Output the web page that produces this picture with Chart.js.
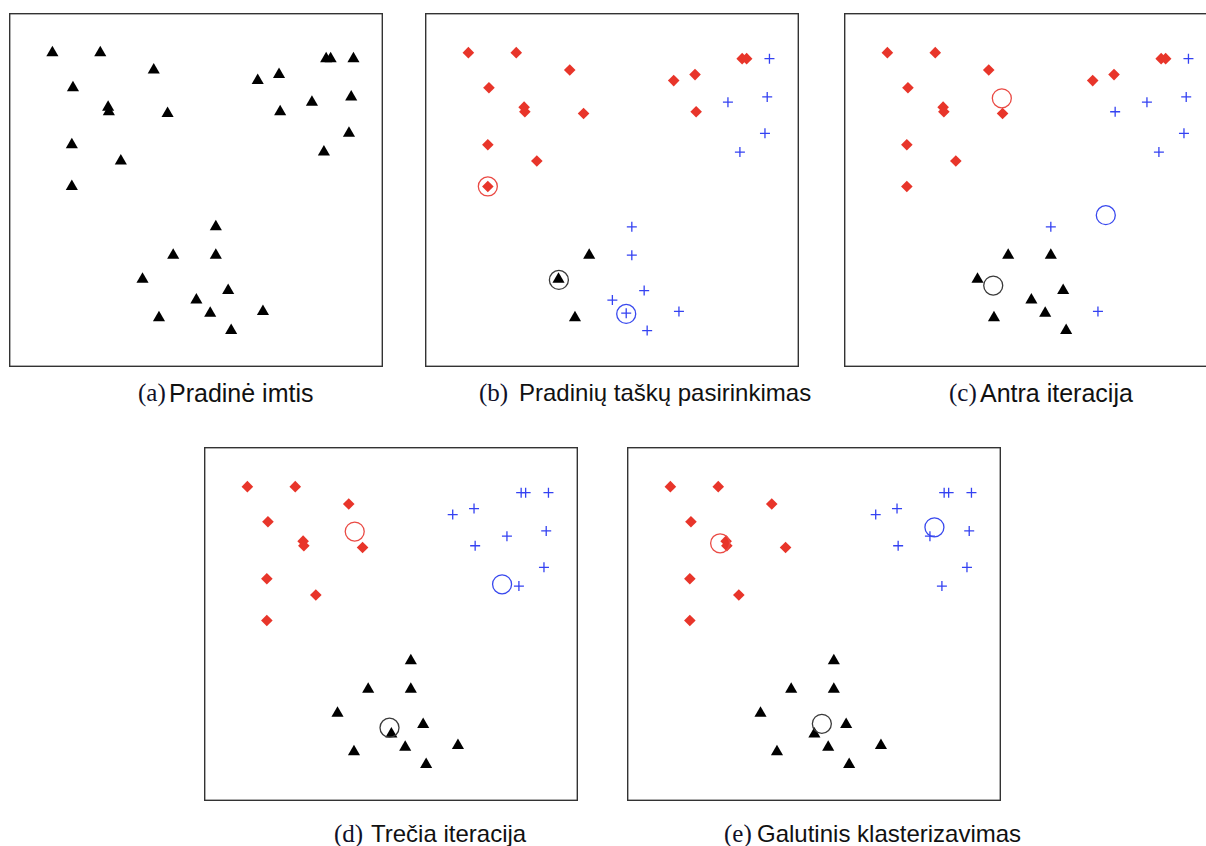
<!DOCTYPE html>
<html>
<head>
<meta charset="utf-8">
<script src="https://cdn.jsdelivr.net/npm/chart.js"></script>
<style>
    html, body {
        margin: 0;
        padding: 0;
        background: #fff;
        overflow: hidden;
    }
    #page {
        position: relative;
        width: 1206px;
        height: 846px;
        overflow: hidden;
    }
    canvas {
        position: absolute;
    }
    .lbl, .cap {
        position: absolute;
        white-space: nowrap;
        line-height: 24px;
        font-size: 24px;
    }
    .lbl {
        font-family: "Liberation Serif", "Times New Roman", serif;
        font-size: 25px;
        color: #10102a;
    }
    .cap {
        font-family: "Liberation Sans", Arial, sans-serif;
        color: #111;
    }
    .wide {
        font-size: 25px;
    }
</style>
</head>
<body>
<div id="page">
    <canvas id="panelA" width="374" height="354" style="left:9px; top:13px;"></canvas>
    <canvas id="panelB" width="374" height="354" style="left:425px; top:13px;"></canvas>
    <canvas id="panelC" width="374" height="354" style="left:844px; top:13px;"></canvas>
    <canvas id="panelD" width="374" height="354" style="left:204px; top:447px;"></canvas>
    <canvas id="panelE" width="374" height="354" style="left:627px; top:447px;"></canvas>

    <span class="lbl" style="left:138px; top:381px;">(a)</span>
    <span class="cap wide" style="left:169px; top:381px;">Pradinė imtis</span>
    <span class="lbl" style="left:479px; top:381px;">(b)</span>
    <span class="cap" style="left:519px; top:381px;">Pradinių taškų pasirinkimas</span>
    <span class="lbl" style="left:949px; top:381px;">(c)</span>
    <span class="cap wide" style="left:980px; top:381px;">Antra iteracija</span>
    <span class="lbl" style="left:334px; top:822px;">(d)</span>
    <span class="cap" style="left:371px; top:822px;">Trečia iteracija</span>
    <span class="lbl" style="left:724px; top:822px;">(e)</span>
    <span class="cap" style="left:757px; top:822px;">Galutinis klasterizavimas</span>
</div>

<script>
// sample points (same 30 points in every panel)
var pointsX = [11.6, 24.4, 38.7, 17.1, 26.5, 26.7, 42.4, 16.8, 29.9, 16.8,
               66.5, 72.2, 84.8, 86.0, 92.1, 91.5, 81.0, 72.5, 90.9, 84.2,
               55.3, 43.9, 55.3, 35.7, 58.6, 50.1, 53.8, 67.9, 40.1, 59.4];
var pointsY = [88.8, 88.8, 83.9, 78.9, 73.4, 72.1, 71.6, 62.8, 58.2, 51.0,
               80.9, 82.6, 87.1, 87.1, 87.1, 76.3, 74.8, 72.1, 66.0, 60.7,
               39.6, 31.6, 31.6, 24.8, 21.6, 18.9, 15.2, 15.7, 13.9, 10.3];

// cluster of every point per panel: R - red, B - blue, K - black
var clustersA = ['K','K','K','K','K','K','K','K','K','K',
                 'K','K','K','K','K','K','K','K','K','K',
                 'K','K','K','K','K','K','K','K','K','K'];
var clustersB = ['R','R','R','R','R','R','R','R','R','R',
                 'R','R','R','R','B','B','B','R','B','B',
                 'B','K','B','K','B','B','B','B','K','B'];
var clustersC = ['R','R','R','R','R','R','R','R','R','R',
                 'R','R','R','R','B','B','B','B','B','B',
                 'B','K','K','K','K','K','K','B','K','K'];
var clustersD = ['R','R','R','R','R','R','R','R','R','R',
                 'B','B','B','B','B','B','B','B','B','B',
                 'K','K','K','K','K','K','K','K','K','K'];
var clustersE = clustersD;

// cluster centres (red, blue, black)
var centresB = { x: [16.8, 53.8, 35.8], y: [51.0, 15.0, 24.6] };
var centresC = { x: [42.2, 70.0, 39.9], y: [75.9, 42.9, 23.0] };
var centresD = { x: [40.3, 79.7, 49.6], y: [76.1, 61.2, 20.7] };
var centresE = { x: [24.9, 82.2, 52.1], y: [72.8, 77.3, 21.8] };

var RED = '#e8352a';
var BLUE = '#3442f2';
var BLACK = '#000000';

// frame round the plot area
var framePlugin = {
    id: 'frame',
    afterDraw: function(chart) {
        var ctx = chart.ctx;
        ctx.save();
        ctx.strokeStyle = '#333333';
        ctx.lineWidth = 1.4;
        ctx.strokeRect(0.7, 0.7, chart.width - 1.4, chart.height - 1.4);
        ctx.restore();
    }
};

function pick(clusters, key) {
    var out = [];
    clusters.forEach(function(c, i) {
        if (c === key) out.push({ x: pointsX[i], y: pointsY[i] });
    });
    return out;
}

function createPanel(id, clusters, centres) {
    var datasets = [];

    if (centres) {
        var ringColors = ['#ea4a44', '#3848ee', '#3a3a3a'];
        for (var k = 0; k < 3; k++) {
            datasets.push({
                data: [{ x: centres.x[k], y: centres.y[k] }],
                pointStyle: 'circle',
                pointRadius: 9.5,
                backgroundColor: 'rgba(0,0,0,0)',
                borderColor: ringColors[k],
                borderWidth: 1.3
            });
        }
    }

    datasets.push({
        data: pick(clusters, 'R'),
        pointStyle: 'rectRot',
        pointRadius: 5.8,
        backgroundColor: RED,
        borderWidth: 0
    });
    datasets.push({
        data: pick(clusters, 'B'),
        pointStyle: 'cross',
        pointRadius: 5,
        borderColor: BLUE,
        borderWidth: 1.3
    });
    datasets.push({
        data: pick(clusters, 'K'),
        pointStyle: 'triangle',
        pointRadius: 7,
        backgroundColor: BLACK,
        borderWidth: 0
    });

    var ctx = document.getElementById(id).getContext('2d');
    new Chart(ctx, {
        type: 'scatter',
        data: { datasets: datasets },
        options: {
            responsive: false,
            animation: false,
            devicePixelRatio: 1,
            events: [],
            layout: { padding: 0, autoPadding: false },
            plugins: {
                legend: { display: false },
                tooltip: { enabled: false }
            },
            scales: {
                x: { type: 'linear', min: 0, max: 100, display: false },
                y: { type: 'linear', min: 0, max: 100, display: false }
            }
        },
        plugins: [framePlugin]
    });
}

createPanel('panelA', clustersA, null);
createPanel('panelB', clustersB, centresB);
createPanel('panelC', clustersC, centresC);
createPanel('panelD', clustersD, centresD);
createPanel('panelE', clustersE, centresE);
</script>
</body>
</html>
